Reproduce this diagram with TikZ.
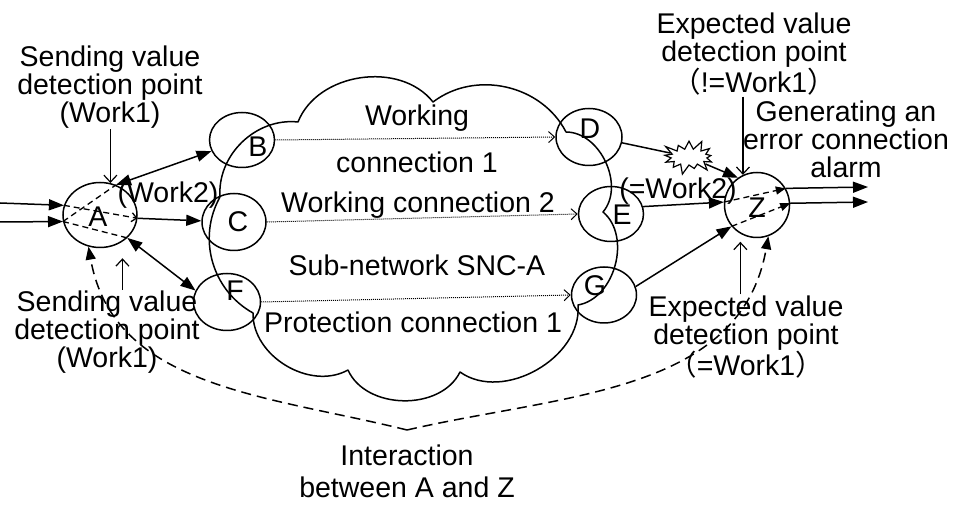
\documentclass[tikz,border=0pt]{standalone}
\usepackage{fontspec}
\setmainfont{Liberation Sans}
\newfontfamily\cjk{Noto Sans CJK SC}
\usetikzlibrary{arrows.meta}
\usetikzlibrary{shapes.geometric}
\usetikzlibrary{shapes.symbols}
\newcommand{\lpar}{{\cjk （}}
\newcommand{\rpar}{{\cjk ）}}

\begin{document}
\begin{tikzpicture}[x=1pt,y=1pt,font=\fontsize{28.5}{28}\selectfont]
\tikzstyle{port}=[ellipse,draw,line width=1.5pt,inner sep=0pt]
\tikzstyle{txt}=[align=center,inner sep=1pt]
\tikzstyle{conn}=[line width=1.5pt,-{Triangle[length=15pt,width=11pt]}]
\tikzstyle{both}=[line width=1.5pt,{Triangle[length=15pt,width=11pt]}-{Triangle[length=15pt,width=11pt]}]
\tikzstyle{route}=[line width=1pt,densely dotted,-{Straight Barb[length=6pt,width=11pt]}]
\tikzstyle{pointer}=[line width=1.2pt,-{Straight Barb[length=7pt,width=13pt]}]
\tikzstyle{inner}=[line width=1.3pt,dash pattern=on 6pt off 4pt]
\tikzstyle{mutual}=[line width=1.5pt,dash pattern=on 10pt off 6pt,-{Triangle[length=13pt,width=10pt]}]
\useasboundingbox (0,0) rectangle (963,514);

\draw[line width=1.5pt,line join=round] (220,317) to[bend left=50] (298,392) to[bend left=60] (433,412)
  to[bend left=50] (566,382) to[bend left=65] (603,302) to[bend left=65] (578,209)
  to[bend left=65] (460,142) to[bend left=65] (348,144) to[bend left=60] (253,201)
  to[bend left=45] (220,317);

\node[port,minimum width=74pt,minimum height=65pt] at(100, 299) (a) {};
\node[port,minimum width=65pt,minimum height=55pt] at(242, 374) (b) {};
\node[port,minimum width=64pt,minimum height=57pt] at(234, 292) (c) {};
\node[port,minimum width=67pt,minimum height=57pt] at(227, 212) (f) {};
\node[port,minimum width=66pt,minimum height=57pt] at(589, 377) (d) {};
\node[port,minimum width=65pt,minimum height=55pt] at(611, 300) (e) {};
\node[port,minimum width=65pt,minimum height=56pt] at(604, 219) (g) {};
\node[port,minimum width=65pt,minimum height=65pt] at(757, 309) (z) {};

\node[txt] at(98, 297) (la) {A};
\node[txt] at(258, 367) (lb) {B};
\node[txt] at(238, 292) (lc) {C};
\node[txt] at(235, 223) (lf) {F};
\node[txt] at(590, 385) (ld) {D};
\node[txt] at(622, 299) (le) {E};
\node[txt] at(595, 228) (lg) {G};
\node[txt] at(757, 306) (lz) {Z};

\node[txt] at(110, 427) (sendtop) {Sending value\\detection point\\(Work1)};
\node[txt] at(107, 182) (sendbot) {Sending value\\detection point\\(Work1)};
\node[txt] at(168, 319) (worktwo) {(Work2)};
\node[txt] at(417, 396) (wcona) {Working};
\node[txt] at(417, 352) (wconb) {connection 1};
\node[txt] at(418, 309) (wcontwo) {Working connection 2};
\node[txt] at(417, 249) (snc) {Sub-network SNC-A};
\node[txt] at(413, 192) (pcon) {Protection connection 1};
\node[txt] at(678, 323) (eqwork) {(=Work2)};
\node[txt] at(754, 460) (exptop) {Expected value\\detection point\\\lpar!=Work1\rpar};
\node[txt] at(846, 375) (alarm) {Generating an\\error connection\\alarm};
\node[txt] at(746, 177) (expbot) {Expected value\\detection point\\\lpar=Work1\rpar};
\node[txt,font=\fontsize{28.5}{32}\selectfont] at(407, 43) (interact) {Interaction\\between A and Z};

\node[starburst,draw,fill=white,line width=1.2pt,minimum width=58pt,minimum height=38pt,
      starburst points=13,starburst point height=11pt,inner sep=0pt] at(689, 357) (burst) {};

\coordinate (inone) at(0, 311);
\coordinate (intwo) at(0, 292);
\coordinate (outone) at(868, 327);
\coordinate (outtwo) at(868, 312);
\coordinate (low) at(407, 84);

\draw[conn] (inone) -- (a.165);
\draw[conn] (intwo) -- (a.190);
\draw[both] (a.62) -- (b.200);
\draw[conn] (a.-5) -- (c.178);
\draw[both] (a.-40) -- (f.160);
\draw[inner,-{Straight Barb[length=5pt,width=9pt]}] (a.165) -- (a.-5);
\draw[inner] (a.190) -- (a.62);
\draw[inner] (a.190) -- (a.-40);

\draw[route] (b.east) -- (d.west);
\draw[route] (c.east) -- (e.west);
\draw[route] (f.east) -- (g.west);

\draw[line width=1.5pt] (d.-10) -- (burst);
\draw[conn] (burst) -- (z.125);
\draw[conn] (e.13) -- (z.175);
\draw[conn] (g.15) -- (z.220);
\draw[conn] (z.30) -- (outone);
\draw[conn] (z.3) -- (outtwo);
\draw[inner,-{Triangle[length=10pt,width=8pt]}] (z.175) -- (z.30);
\draw[inner,-{Triangle[length=10pt,width=8pt]}] (z.220) -- (z.3);

\draw[pointer] (a.72 |- sendtop.south) -- (a.72);
\draw[pointer,shorten >=10pt] (a.-50 |- sendbot.north) -- (a.-50 |- a.south);
\draw[pointer] (z.115 |- exptop.south) -- (z.115);
\draw[pointer,shorten >=8pt] (z.-120 |- expbot.north) -- (z.-120);

\draw[mutual] (low) to[out=166, in=-80] (a.250);
\draw[mutual] (low) to[out=13, in=-100] (z.-70);
\end{tikzpicture}
\end{document}
